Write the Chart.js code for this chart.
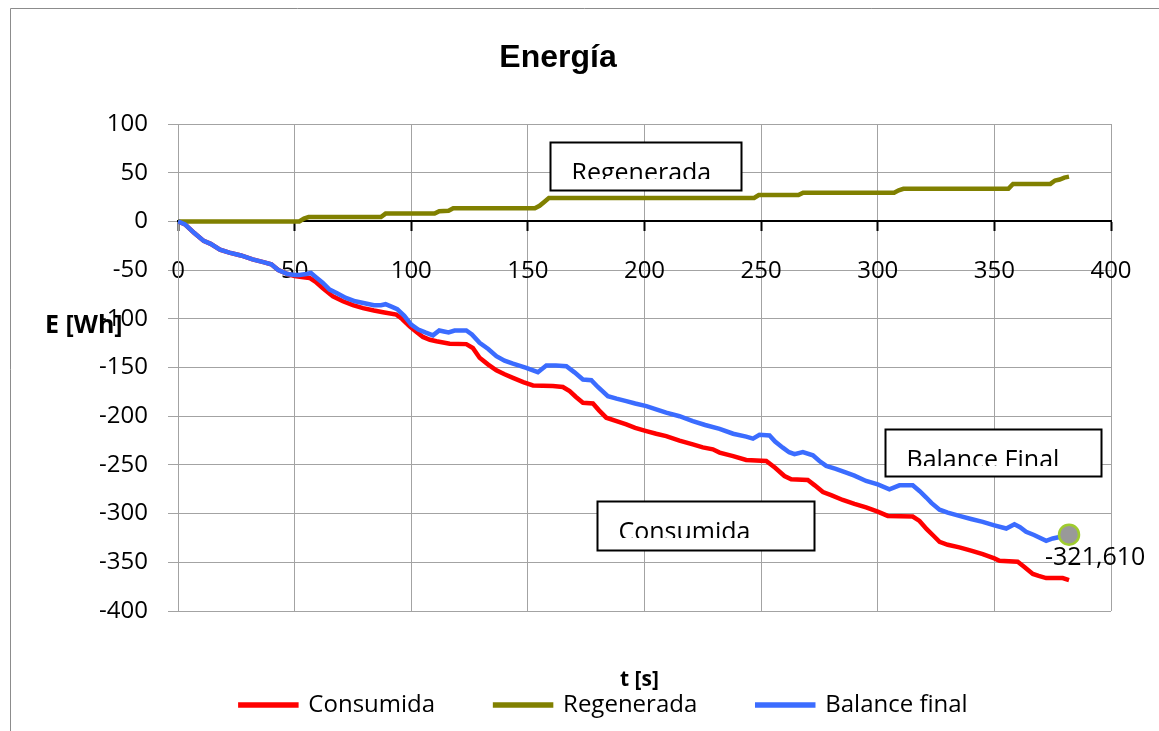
<!DOCTYPE html>
<html lang="es">
  <head>
    <meta charset="UTF-8" />
    <title>Energía</title>
    <script src="https://cdn.jsdelivr.net/npm/chart.js"></script>
    <style>
      html,
      body {
        margin: 0;
        padding: 0;
        background: #fff;
      }
      canvas {
        display: block;
      }
    </style>
  </head>
  <body>
    <canvas id="energyChart" width="1159" height="731"></canvas>

    <script>
      // t [s] y E [Wh] de cada serie
      const tConsumida = [0, 3, 7, 11, 14, 18, 22, 27, 32, 37, 40, 43, 47, 50, 53, 56.4, 59, 62, 66.4, 70.7, 75, 79.3, 84, 87.9, 93.6, 96, 99.3, 102, 105, 108, 110.8, 116.5, 123.6, 126.4, 129.3, 133, 136.5, 140, 143.6, 148, 152.2, 160.7, 165, 167.9, 170.5, 173.6, 177.9, 180.5, 183.6, 188, 192.2, 196, 200.8, 205, 209.3, 215, 220.7, 225, 229.3, 232.2, 238, 243.6, 252.2, 256, 260, 262.9, 270, 273, 276.5, 280, 285, 290, 295, 300, 304.3, 315, 317.9, 321, 324, 326.5, 330, 335, 340, 345, 350, 352.2, 360, 363, 366.5, 369, 372.2, 379.3, 382]
      const eConsumida = [0, -3, -12, -20, -23, -29, -32, -35, -39, -42, -44, -50, -54, -56, -57, -58, -62, -68.4, -77, -82, -86, -89, -91.5, -93.3, -95.7, -100, -107.7, -113, -118.6, -121.5, -123, -125.5, -126, -130, -140, -147, -152.8, -157, -160.6, -165, -168.4, -169, -170, -174.3, -180, -186.2, -186.9, -194, -201.5, -205, -208.4, -212, -215.3, -218, -220.4, -225, -228.9, -232, -234, -237.4, -241, -245, -246, -253, -261.4, -264.8, -265.5, -271, -277.8, -281, -286, -290, -293.7, -298, -302.4, -303, -307.5, -316, -323, -329, -332, -334.7, -338, -341.6, -346, -348.5, -349.5, -355, -362, -364, -366.2, -366.2, -368.2]

      const tRegenerada = [0, 52, 54, 56, 87, 89, 110, 112, 116, 118, 153, 155, 157, 159, 247, 249, 266, 268, 307, 309, 311, 356, 358, 374, 376, 378, 380, 382]
      const eRegenerada = [0, 0, 3, 4.5, 4.5, 8, 8, 10.5, 11, 13.5, 13.5, 16, 20, 24, 24, 27, 27, 29.5, 29.5, 32, 33.5, 33.5, 38.5, 38.5, 42, 43, 45, 46]

      const tBalance = [0, 3, 7, 11, 14, 18, 22, 27, 32, 37, 40, 43, 47, 50, 52, 55, 57, 59, 62, 65, 68, 72, 76, 80, 84, 87, 89, 92, 94, 97, 100, 103, 106, 109.3, 112, 114, 116, 118.6, 123.6, 126, 129.3, 133, 136.5, 140, 143.6, 149.3, 154.3, 157.9, 162, 166.5, 170, 173.6, 177.2, 180, 184.3, 188, 192.2, 196, 200.8, 205, 209.3, 215, 220.7, 226, 232.2, 238, 243.6, 246.5, 249.3, 253.6, 256, 259.3, 262, 264.3, 267.9, 272.2, 275, 277.9, 282, 286.5, 290, 295, 300, 305, 309.3, 315, 318, 320.8, 323, 326.5, 330, 335, 340, 345, 350, 355.1, 358.6, 361, 363.6, 367, 372.2, 375, 378, 382]
      const eBalance = [0, -3, -12, -20, -23, -29, -32, -35, -39, -42, -44, -50, -54, -55, -55, -54, -53, -57, -63, -70, -73.5, -78.6, -82, -84, -86, -86, -85, -88, -90, -97, -106, -111, -114, -117, -112, -113, -114, -112, -112, -116, -124.7, -131, -138.4, -143, -146, -150.3, -154.8, -148, -148, -148.7, -155, -162.3, -163, -170, -179.4, -182, -184.5, -187, -189.7, -193, -196.4, -200, -205, -209, -213, -218, -221, -223, -219, -219.7, -226, -232.3, -237, -239, -236.8, -240.2, -246, -251, -254, -258, -261, -266.5, -270, -275, -271, -271, -277, -283.5, -289, -296, -299, -302.4, -305.5, -308.5, -312, -315.3, -311, -314, -318.7, -322, -328, -325.5, -324, -321.61]

      // cuadros de texto: esquina superior izquierda en unidades de los ejes
      const notes = [
        { text: 'Regenerada', t: 159.3, e: 81.2, w: 191, h: 48 },
        { text: 'Balance Final', t: 303.3, e: -213.5, w: 216, h: 47 },
        { text: 'Consumida', t: 179.5, e: -287.3, w: 217, h: 49 },
      ]

      const toPoints = (ts, es) => ts.map((t, i) => ({ x: t, y: es[i] }))

      const FONT = "'Open Sans', sans-serif"
      Chart.defaults.font.family = FONT
      Chart.defaults.color = '#000'

      const GRID = '#a3a3a3'
      const PAD_LEFT = 97
      const AREA_LEFT = 178

      // marco, título, rótulos de ejes, cuadros de texto y etiqueta del último punto
      const extras = {
        id: 'extras',
        beforeDraw(chart) {
          const ctx = chart.ctx
          ctx.save()
          ctx.fillStyle = '#fff'
          ctx.fillRect(0, 0, chart.width, chart.height)
          ctx.strokeStyle = '#8c8c8c'
          ctx.lineWidth = 1
          ctx.beginPath()
          ctx.moveTo(10.5, chart.height)
          ctx.lineTo(10.5, 8.5)
          ctx.lineTo(chart.width, 8.5)
          ctx.stroke()
          ctx.restore()
        },
        afterDraw(chart) {
          const { ctx, chartArea } = chart
          const xs = chart.scales.x
          const ys = chart.scales.y
          ctx.save()
          ctx.fillStyle = '#000'

          ctx.font = "bold 32px 'Liberation Sans', Arial, sans-serif"
          ctx.textAlign = 'center'
          ctx.textBaseline = 'alphabetic'
          ctx.fillText('Energía', 558, 67)

          ctx.font = 'bold 21px ' + FONT
          ctx.textBaseline = 'middle'
          ctx.fillText('t [s]', (chartArea.left + chartArea.right) / 2 - 5, 680)

          ctx.font = 'bold 25px ' + FONT
          ctx.textAlign = 'left'
          ctx.textBaseline = 'alphabetic'
          ctx.fillText('E [Wh]', 45, 333)

          ctx.font = '25px ' + FONT
          notes.forEach((n) => {
            const left = Math.round(xs.getPixelForValue(n.t)) + 0.5
            const top = Math.round(ys.getPixelForValue(n.e)) + 0.5
            ctx.fillStyle = '#fff'
            ctx.fillRect(left, top, n.w, n.h)
            ctx.strokeStyle = '#000'
            ctx.lineWidth = 2
            ctx.strokeRect(left, top, n.w, n.h)
            ctx.save()
            ctx.beginPath()
            ctx.rect(left, top, n.w, 36.5)
            ctx.clip()
            ctx.fillStyle = '#000'
            ctx.fillText(n.text, left + 21, top + 38.5)
            ctx.restore()
          })

          const meta = chart.getDatasetMeta(2)
          const last = meta.data[meta.data.length - 1]
          const value = eBalance[eBalance.length - 1]
          ctx.font = '25px ' + FONT
          ctx.fillStyle = '#000'
          ctx.fillText(value.toFixed(3).replace('.', ','), last.x - 24, last.y + 30)
          ctx.restore()
        },
      }

      new Chart(document.getElementById('energyChart'), {
        type: 'line',
        data: {
          datasets: [
            {
              label: 'Consumida',
              data: toPoints(tConsumida, eConsumida),
              borderColor: '#ff0000',
              backgroundColor: '#ff0000',
              borderWidth: 4.5,
              pointRadius: 0,
              order: 2,
            },
            {
              label: 'Regenerada',
              data: toPoints(tRegenerada, eRegenerada),
              borderColor: '#808000',
              backgroundColor: '#808000',
              borderWidth: 4.5,
              pointRadius: 0,
              order: 1,
            },
            {
              label: 'Balance final',
              data: toPoints(tBalance, eBalance),
              borderColor: '#3b6cff',
              backgroundColor: '#3b6cff',
              borderWidth: 4.5,
              pointRadius: (c) => (c.dataIndex === tBalance.length - 1 ? 10 : 0),
              pointBackgroundColor: '#999999',
              pointBorderColor: '#9fcc2e',
              pointBorderWidth: 2.5,
              order: 0,
            },
          ],
        },
        options: {
          responsive: false,
          animation: false,
          layout: { padding: { left: PAD_LEFT, right: 48, top: 124, bottom: 4 } },
          plugins: {
            legend: {
              position: 'bottom',
              title: { display: true, text: '', padding: 0, font: { size: 20, lineHeight: 1.1 } },
              labels: {
                boxWidth: 56,
                boxHeight: 1,
                padding: 60,
                font: { size: 24 },
                sort: (a, b) => a.datasetIndex - b.datasetIndex,
              },
            },
            tooltip: { enabled: false },
          },
          scales: {
            x: {
              type: 'linear',
              position: { y: 0 },
              min: 0,
              max: 400,
              ticks: { stepSize: 50, padding: 26, font: { size: 24 }, maxRotation: 0 },
              grid: { color: GRID, tickColor: '#000', tickWidth: 2, tickLength: 9 },
              border: { color: '#000', width: 2 },
              afterFit: (s) => {
                s.height = 0
              },
            },
            y: {
              min: -400,
              max: 100,
              ticks: { stepSize: 50, padding: 20, font: { size: 24 } },
              grid: { color: GRID, tickLength: 10 },
              border: { color: GRID },
              afterFit: (s) => {
                s.width = AREA_LEFT - PAD_LEFT
              },
            },
          },
        },
        plugins: [extras],
      })
    </script>
  </body>
</html>
